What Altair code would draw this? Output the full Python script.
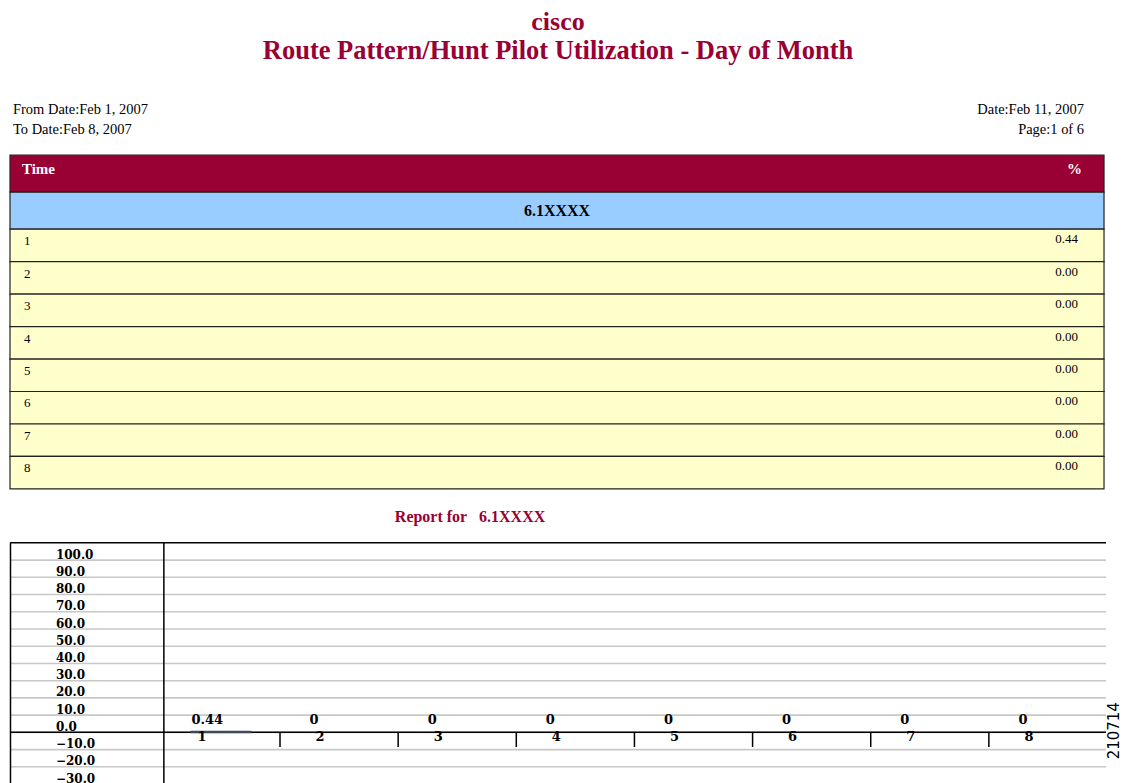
import altair as alt
import pandas as pd

# ---- data ----
title_top = "cisco"
title_main = "Route Pattern/Hunt Pilot Utilization - Day of Month"
left_info = ["From Date:Feb 1, 2007", "To Date:Feb 8, 2007"]
right_info = ["Date:Feb 11, 2007", "Page:1 of 6"]
header_cols = ["Time", "%"]
group_name = "6.1XXXX"
days = [1, 2, 3, 4, 5, 6, 7, 8]
pct = [0.44, 0.00, 0.00, 0.00, 0.00, 0.00, 0.00, 0.00]
y_ticks = [100, 90, 80, 70, 60, 50, 40, 30, 20, 10, 0, -10, -20, -30]
report_title = "Report for\u00a0\u00a0\u00a06.1XXXX"
doc_id = "210714"

SERIF = "Liberation Serif"
CFONT = "DejaVu Serif"
RED = "#990033"
BLUE = "#99CCFF"
YELLOW = "#FFFFCC"
W = 1097
WT = 1095

# ---- header ----
info = pd.DataFrame({"row": [0, 1], "left": left_info, "right": right_info})
hbase = alt.Chart(info).encode(
    y=alt.Y("row:O", axis=None, scale=alt.Scale(range=[14.5, 34.5], padding=0))
)
hleft = hbase.mark_text(align="left", baseline="middle", font=SERIF, fontSize=14.5, color="black").encode(
    x=alt.value(3), text="left:N")
hright = hbase.mark_text(align="right", baseline="middle", font=SERIF, fontSize=14.5, color="black").encode(
    x=alt.value(1075), text="right:N")
header = alt.layer(hleft, hright).properties(
    width=W, height=59.5,
    title=alt.Title(text=title_top, subtitle=title_main, font=SERIF, fontSize=26, fontWeight="bold",
                    color=RED, subtitleFont=SERIF, subtitleFontSize=26.5, subtitleFontWeight="bold",
                    subtitleColor=RED, anchor="middle", offset=31, subtitlePadding=3))

# ---- table header rows ----
thead = pd.DataFrame({"kind": ["header", "group"], "left": [header_cols[0], ""],
                      "center": ["", group_name], "right": [header_cols[1], ""]})
tb = alt.Chart(thead).encode(
    y=alt.Y("kind:N", axis=None, sort=["header", "group"],
            scale=alt.Scale(paddingInner=0, paddingOuter=0)))
trect = tb.mark_rect(stroke="#222222", strokeWidth=1.2).encode(
    x=alt.value(0), x2=alt.value(WT),
    fill=alt.Fill("kind:N", scale=alt.Scale(domain=["header", "group"], range=[RED, BLUE]), legend=None))
tl = tb.mark_text(align="left", baseline="middle", font=SERIF, fontSize=15, fontWeight="bold",
                  color="white", dy=-5).encode(x=alt.value(12), text="left:N")
tr = tb.mark_text(align="right", baseline="middle", font=SERIF, fontSize=15, fontWeight="bold",
                  color="white", dy=-5).encode(x=alt.value(WT - 22), text="right:N")
tc = tb.mark_text(align="center", baseline="middle", font=SERIF, fontSize=16, fontWeight="bold",
                  color="black").encode(x=alt.value(WT / 2), text="center:N")
table_head = alt.layer(trect, tl, tr, tc).properties(width=WT, height=74)

# ---- table rows ----
rows = pd.DataFrame({"day": days, "pct": pct})
rb = alt.Chart(rows).encode(
    y=alt.Y("day:O", axis=None, scale=alt.Scale(range=[0, 260], paddingInner=0, paddingOuter=0)))
rrect = rb.mark_rect(fill=YELLOW, stroke="#222222", strokeWidth=1.2).encode(
    x=alt.value(0), x2=alt.value(WT))
rl = rb.mark_text(align="left", baseline="top", font=SERIF, fontSize=13, color="black", dy=6).encode(
    x=alt.value(14), y=alt.Y("day:O", bandPosition=0), text="day:N")
rr = rb.mark_text(align="right", baseline="top", font=SERIF, fontSize=13, color="black", dy=4).encode(
    x=alt.value(WT - 26), y=alt.Y("day:O", bandPosition=0), text=alt.Text("pct:Q", format=".2f"))
table_rows = alt.layer(rrect, rl, rr).properties(width=WT, height=314)

# ---- bar chart ----
YMIN, YMAX = -35, 110
H = 250
bars_df = pd.DataFrame({"day": days, "v": pct})
ticks_df = pd.DataFrame({"t": y_ticks})

xs = alt.Scale(range=[152, 1098], paddingInner=0, paddingOuter=0)
ys = alt.Scale(domain=[YMIN, YMAX], nice=False, zero=False)

grid = alt.Chart(ticks_df).mark_rule(color="#c8c8c8", strokeWidth=1.6).encode(
    y=alt.Y("t:Q", scale=ys, axis=None), x=alt.value(0), x2=alt.value(W))
ylabels = alt.Chart(ticks_df).transform_calculate(
    lab="format(datum.t, '.1f')"
).mark_text(align="left", baseline="alphabetic", font=CFONT, fontWeight="bold", fontSize=12,
            color="black", dy=-1.5).encode(
    y=alt.Y("t:Q", scale=ys, axis=None), x=alt.value(46), text="lab:N")

edges = pd.DataFrame({"top": [YMAX], "zero": [0]})
border_top = alt.Chart(edges).mark_rule(color="black", strokeWidth=1.5).encode(
    y=alt.Y("top:Q", scale=ys, axis=None), x=alt.value(0), x2=alt.value(W))
zero_line = alt.Chart(edges).mark_rule(color="black", strokeWidth=1.5).encode(
    y=alt.Y("zero:Q", scale=ys, axis=None), x=alt.value(0), x2=alt.value(W))
left_border = alt.Chart(edges).mark_rule(color="black", strokeWidth=1.5).encode(
    x=alt.value(0.5), y=alt.value(0), y2=alt.value(H))
divider = alt.Chart(edges).mark_rule(color="black", strokeWidth=1.5).encode(
    x=alt.value(154), y=alt.value(0), y2=alt.value(H))

bbase = alt.Chart(bars_df).transform_calculate(zero="0", lo="-8.5")
bars = bbase.mark_bar(width={"band": 0.5}, color="#3d4a5c", stroke="#3d4a5c", strokeWidth=1.8).encode(
    x=alt.X("day:O", axis=None, scale=xs),
    y=alt.Y("v:Q", scale=ys, axis=None),
    y2="zero:Q",
    strokeOpacity=alt.condition(alt.datum.v > 0, alt.value(1), alt.value(0)))
vlabels = bbase.transform_calculate(
    lab="datum.v == 0 ? '0' : format(datum.v, '.2f')"
).mark_text(align="left", baseline="bottom", font=CFONT, fontWeight="bold", fontSize=13,
            color="black", dy=-5).encode(
    x=alt.X("day:O", bandPosition=0.25, scale=xs, axis=None),
    y=alt.Y("v:Q", scale=ys, axis=None), text="lab:N")
xlabels = bbase.mark_text(align="left", baseline="top", font=CFONT, fontWeight="bold", fontSize=13,
                          color="black", dx=6, dy=-1).encode(
    x=alt.X("day:O", bandPosition=0.25, scale=xs, axis=None),
    y=alt.Y("zero:Q", scale=ys, axis=None), text="day:N")
xticks = bbase.transform_filter(alt.datum.day > 1).mark_rule(color="black", strokeWidth=1.5).encode(
    x=alt.X("day:O", bandPosition=0, scale=xs, axis=None),
    y=alt.Y("zero:Q", scale=ys, axis=None), y2="lo:Q")
docid = alt.Chart(pd.DataFrame({"id": [doc_id]})).mark_text(
    angle=270, align="center", baseline="middle", font="DejaVu Sans", fontSize=15, color="black").encode(
    x=alt.value(1105), y=alt.value(188), text="id:N")

barchart = alt.layer(grid, border_top, left_border, divider, zero_line, bars, xticks, ylabels,
                     vlabels, xlabels, docid).properties(
    width=W, height=H,
    title=alt.Title(text=report_title, font=SERIF, fontSize=16, fontWeight="bold", color=RED,
                    anchor="start", dx=386, offset=17))

chart = alt.vconcat(header, table_head, table_rows, barchart, spacing=0, bounds="flush").properties(
    padding=0).configure_view(stroke="transparent")

chart.save("out.html", embed_options={"renderer": "svg", "actions": False})
